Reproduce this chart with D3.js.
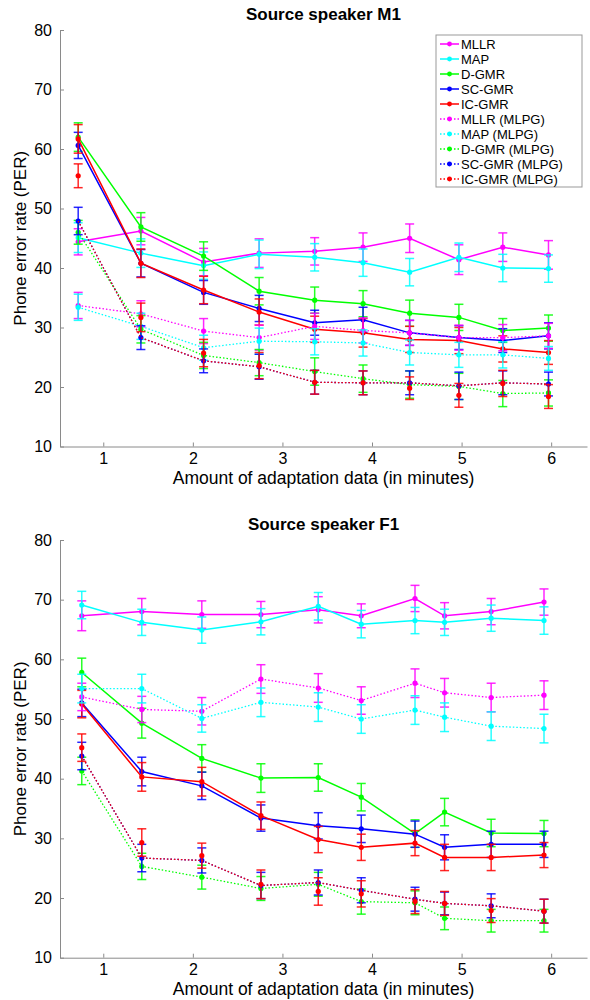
<!DOCTYPE html>
<html>
<head>
<meta charset="utf-8">
<script src="https://cdn.jsdelivr.net/npm/d3@7"></script>
<style>
  body { margin: 0; background: #fff; }
  svg text { font-family: "Liberation Sans", Arial, sans-serif; }
</style>
</head>
<body>
<div id="chart"></div>
<script>
// legend / series names
const seriesNames = ["MLLR", "MAP", "D-GMR", "SC-GMR", "IC-GMR",
  "MLLR (MLPG)", "MAP (MLPG)", "D-GMR (MLPG)", "SC-GMR (MLPG)", "IC-GMR (MLPG)"];
const yTicks = [10, 20, 30, 40, 50, 60, 70, 80];
const xTicks = [1, 2, 3, 4, 5, 6];

// speaker M1: amount of adaptation data (minutes)
const xM1 = [0.72, 1.42, 2.12, 2.74, 3.36, 3.90, 4.42, 4.97, 5.46, 5.97];
const m1Mllr = [44.4, 46.2, 41.0, 42.5, 42.8, 43.5, 45.0, 41.4, 43.5, 42.2];
const m1Map = [45.1, 42.5, 40.4, 42.3, 41.8, 40.9, 39.3, 41.8, 40.0, 39.9];
const m1Dgmr = [62.0, 46.9, 42.0, 36.1, 34.6, 34.0, 32.4, 31.7, 29.5, 29.9];
const m1Scgmr = [60.6, 40.8, 35.9, 33.2, 30.8, 31.3, 29.1, 28.3, 27.8, 28.6];
const m1Icgmr = [61.7, 40.8, 36.3, 32.6, 29.7, 29.1, 28.0, 27.8, 26.4, 25.8];
const m1MllrMlpg = [33.7, 32.3, 29.4, 28.3, 30.2, 29.5, 29.1, 28.3, 28.3, 28.6];
const m1MapMlpg = [33.4, 30.2, 26.6, 27.7, 27.6, 27.4, 25.8, 25.4, 25.4, 24.8];
const m1DgmrMlpg = [46.0, 29.7, 25.3, 24.1, 22.6, 21.4, 20.4, 20.1, 18.9, 19.0];
const m1ScgmrMlpg = [47.9, 28.3, 24.4, 23.4, 20.8, 20.7, 20.7, 20.2, 20.7, 20.5];
const m1IcgmrMlpg = [55.5, 31.7, 25.7, 23.6, 20.8, 20.7, 19.8, 18.6, 20.6, 18.4];

const m1MllrErr = [2.2, 2.3, 2.3, 2.4, 2.3, 2.4, 2.4, 2.5, 2.4, 2.4];
const m1MapErr = [2.5, 2.4, 2.3, 2.4, 2.3, 2.3, 2.3, 2.4, 2.3, 2.3];
const m1DgmrErr = [2.4, 2.4, 2.4, 2.3, 2.2, 2.2, 2.2, 2.2, 2.0, 2.2];
const m1ScgmrErr = [2.2, 2.3, 2.0, 2.2, 2.1, 2.1, 2.1, 2.0, 2.0, 2.2];
const m1IcgmrErr = [2.4, 2.4, 2.3, 2.2, 2.2, 2.4, 2.2, 2.2, 2.2, 2.0];
const m1MllrMlpgErr = [2.2, 2.2, 2.1, 2.1, 2.2, 2.1, 2.1, 2.1, 2.2, 2.1];
const m1MapMlpgErr = [2.2, 2.2, 2.1, 2.2, 2.2, 2.2, 2.1, 2.1, 2.2, 2.0];
const m1DgmrMlpgErr = [2.0, 2.3, 2.2, 2.2, 2.3, 2.3, 2.3, 2.2, 2.2, 2.2];
const m1ScgmrMlpgErr = [2.3, 2.0, 2.0, 2.1, 2.0, 2.0, 2.0, 2.3, 2.0, 2.0];
const m1IcgmrMlpgErr = [2.0, 2.4, 2.3, 2.2, 2.0, 2.0, 1.9, 2.0, 2.2, 2.0];

// speaker F1
const xF1 = [0.76, 1.43, 2.10, 2.76, 3.40, 3.88, 4.48, 4.81, 5.33, 5.92];
const f1Mllr = [67.3, 68.0, 67.5, 67.5, 68.3, 67.3, 70.2, 67.3, 68.0, 69.6];
const f1Map = [69.1, 66.2, 64.9, 66.3, 68.9, 65.9, 66.5, 66.2, 66.9, 66.5];
const f1Dgmr = [57.8, 49.3, 43.4, 40.1, 40.2, 36.9, 30.8, 34.4, 30.9, 30.8];
const f1Scgmr = [52.7, 41.2, 38.8, 33.4, 32.1, 31.6, 30.7, 28.5, 29.0, 29.0];
const f1Icgmr = [52.5, 40.3, 39.5, 33.8, 29.8, 28.5, 29.2, 26.8, 26.8, 27.2];
const f1MllrMlpg = [53.7, 51.6, 51.3, 56.7, 55.2, 53.1, 56.0, 54.4, 53.6, 54.0];
const f1MapMlpg = [55.1, 55.1, 50.1, 52.8, 52.0, 50.0, 51.5, 50.3, 48.8, 48.4];
const f1DgmrMlpg = [41.3, 25.3, 23.5, 21.6, 22.3, 19.4, 19.2, 16.6, 16.2, 16.2];
const f1ScgmrMlpg = [43.8, 26.7, 26.3, 22.1, 22.6, 21.3, 19.8, 19.1, 18.7, 17.8];
const f1IcgmrMlpg = [45.2, 29.3, 27.1, 22.3, 21.1, 20.7, 19.4, 19.1, 17.9, 17.8];

const f1MllrErr = [2.5, 2.2, 2.3, 2.2, 2.2, 2.0, 2.2, 2.2, 2.2, 2.2];
const f1MapErr = [2.3, 2.2, 2.2, 2.2, 2.3, 2.3, 2.2, 2.2, 2.2, 2.3];
const f1DgmrErr = [2.4, 2.5, 2.3, 2.4, 2.3, 2.3, 2.3, 2.3, 2.3, 2.2];
const f1ScgmrErr = [2.3, 2.4, 2.3, 2.2, 2.2, 2.3, 2.2, 2.1, 2.2, 2.2];
const f1IcgmrErr = [2.3, 2.4, 2.4, 2.3, 2.2, 2.2, 2.1, 2.2, 2.2, 2.1];
const f1MllrMlpgErr = [2.3, 2.2, 2.3, 2.4, 2.4, 2.3, 2.4, 2.4, 2.4, 2.4];
const f1MapMlpgErr = [2.4, 2.4, 2.3, 2.4, 2.4, 2.4, 2.4, 2.4, 2.4, 2.4];
const f1DgmrMlpgErr = [2.3, 2.2, 2.0, 2.0, 2.0, 2.1, 2.0, 1.9, 1.9, 1.9];
const f1ScgmrMlpgErr = [2.3, 2.3, 2.1, 2.2, 2.1, 2.1, 2.0, 1.9, 2.0, 2.0];
const f1IcgmrMlpgErr = [2.3, 2.3, 2.1, 2.4, 2.3, 2.2, 2.0, 2.0, 2.0, 2.0];

const colors = ["#ff00ff", "#00ffff", "#00ff00", "#0000ff", "#ff0000",
  "#ff00ff", "#00ffff", "#00ff00", "#0000ff", "#ff0000"];
const dotted = [false, false, false, false, false, true, true, true, true, true];

// in the source figure the IC-GMR (MLPG) dotted line follows the SC-GMR (MLPG) points
const panels = [
  {
    title: "Source speaker M1", top: 30, bottom: 446.5, x: xM1, legend: true,
    values: [m1Mllr, m1Map, m1Dgmr, m1Scgmr, m1Icgmr, m1MllrMlpg, m1MapMlpg, m1DgmrMlpg, m1ScgmrMlpg, m1IcgmrMlpg],
    errs: [m1MllrErr, m1MapErr, m1DgmrErr, m1ScgmrErr, m1IcgmrErr, m1MllrMlpgErr, m1MapMlpgErr, m1DgmrMlpgErr, m1ScgmrMlpgErr, m1IcgmrMlpgErr],
    lines: [m1Mllr, m1Map, m1Dgmr, m1Scgmr, m1Icgmr, m1MllrMlpg, m1MapMlpg, m1DgmrMlpg, m1ScgmrMlpg, m1ScgmrMlpg]
  },
  {
    title: "Source speaker F1", top: 540, bottom: 957.7, x: xF1, legend: false,
    values: [f1Mllr, f1Map, f1Dgmr, f1Scgmr, f1Icgmr, f1MllrMlpg, f1MapMlpg, f1DgmrMlpg, f1ScgmrMlpg, f1IcgmrMlpg],
    errs: [f1MllrErr, f1MapErr, f1DgmrErr, f1ScgmrErr, f1IcgmrErr, f1MllrMlpgErr, f1MapMlpgErr, f1DgmrMlpgErr, f1ScgmrMlpgErr, f1IcgmrMlpgErr],
    lines: [f1Mllr, f1Map, f1Dgmr, f1Scgmr, f1Icgmr, f1MllrMlpg, f1MapMlpg, f1DgmrMlpg, f1ScgmrMlpg, f1ScgmrMlpg]
  }
];

const svg = d3.select("#chart").append("svg")
  .attr("width", 590)
  .attr("height", 1000);

const left = 60, right = 587;
const axisColor = "#8a8a8a";

panels.forEach(p => {
  let x = d3.scaleLinear().domain([0.517, 6.4]).range([left, right]);
  let y = d3.scaleLinear().domain([10, 80]).range([p.bottom, p.top]);
  let g = svg.append("g");

  // axes (ticks point inward like the original)
  let xAxis = g.append("g")
    .attr("transform", `translate(0,${p.bottom})`)
    .call(d3.axisBottom(x).tickValues(xTicks).tickFormat(d3.format("d"))
      .tickSizeInner(-4).tickSizeOuter(0).tickPadding(6));
  let yAxis = g.append("g")
    .attr("transform", `translate(${left},0)`)
    .call(d3.axisLeft(y).tickValues(yTicks).tickSizeInner(-4).tickSizeOuter(0).tickPadding(8));
  [xAxis, yAxis].forEach(a => {
    a.selectAll("path, line").attr("stroke", axisColor);
    a.selectAll("text").attr("fill", "#000").attr("font-size", 16)
      .attr("font-family", "Liberation Sans, Arial, sans-serif");
  });
  xAxis.selectAll("text").attr("dy", "0.71em");

  g.append("text")
    .attr("x", (left + right) / 2)
    .attr("y", p.top - 10)
    .attr("text-anchor", "middle")
    .attr("font-size", 17)
    .attr("font-weight", "bold")
    .text(p.title);

  g.append("text")
    .attr("x", (left + right) / 2)
    .attr("y", p.bottom + 37.5)
    .attr("text-anchor", "middle")
    .attr("font-size", 17.5)
    .text("Amount of adaptation data (in minutes)");

  g.append("text")
    .attr("transform", `translate(26,${(p.top + p.bottom) / 2}) rotate(-90)`)
    .attr("text-anchor", "middle")
    .attr("font-size", 17)
    .text("Phone error rate (PER)");

  let line = d3.line()
    .x(d => x(d[0]))
    .y(d => y(d[1]));

  for (let s = 0; s < seriesNames.length; s++) {
    let pts = p.x.map((xv, i) => [xv, p.values[s][i], p.errs[s][i]]);
    let linePts = p.x.map((xv, i) => [xv, p.lines[s][i]]);
    let sg = g.append("g");

    sg.append("path")
      .datum(linePts)
      .attr("d", line)
      .attr("fill", "none")
      .attr("stroke", colors[s])
      .attr("stroke-width", dotted[s] ? 1.3 : 1.5)
      .attr("stroke-dasharray", dotted[s] ? "1.5,2" : null);

    // error bars
    pts.forEach(d => {
      let cx = x(d[0]), y0 = y(d[1] - d[2]), y1 = y(d[1] + d[2]);
      sg.append("line").attr("x1", cx).attr("x2", cx).attr("y1", y0).attr("y2", y1)
        .attr("stroke", colors[s]).attr("stroke-width", 1.5).attr("stroke-opacity", 0.85);
      [y0, y1].forEach(yy => {
        sg.append("line").attr("x1", cx - 4.5).attr("x2", cx + 4.5).attr("y1", yy).attr("y2", yy)
          .attr("stroke", colors[s]).attr("stroke-width", 1.5).attr("stroke-opacity", 0.85);
      });
    });

    sg.selectAll("circle")
      .data(pts)
      .join("circle")
      .attr("cx", d => x(d[0]))
      .attr("cy", d => y(d[1]))
      .attr("r", 2.6)
      .attr("fill", colors[s]);
  }

  if (p.legend) {
    let lg = g.append("g").attr("transform", "translate(436,35)");
    lg.append("rect")
      .attr("width", 146)
      .attr("height", 152)
      .attr("fill", "#fff")
      .attr("stroke", "#999");
    seriesNames.forEach((name, i) => {
      let ly = 9 + i * 15;
      lg.append("line")
        .attr("x1", 4).attr("x2", 23).attr("y1", ly).attr("y2", ly)
        .attr("stroke", colors[i])
        .attr("stroke-width", dotted[i] ? 1.3 : 1.5)
        .attr("stroke-dasharray", dotted[i] ? "1.5,2" : null);
      lg.append("circle").attr("cx", 13.5).attr("cy", ly).attr("r", 2.4).attr("fill", colors[i]);
      lg.append("text")
        .attr("x", 25)
        .attr("y", ly)
        .attr("dy", "0.35em")
        .attr("font-size", 13)
        .text(name);
    });
  }
});
</script>
</body>
</html>
